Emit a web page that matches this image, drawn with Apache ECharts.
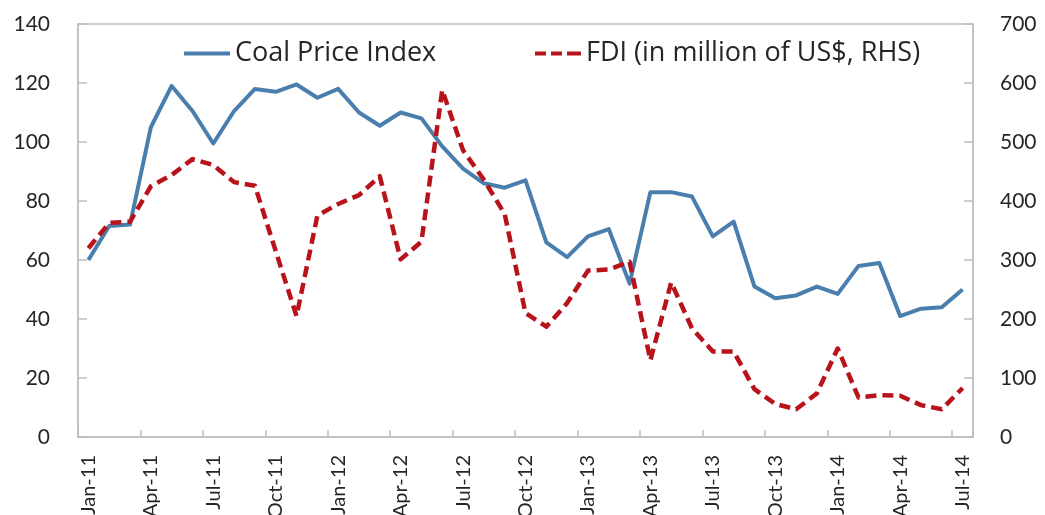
<!DOCTYPE html>
<html>
<head>
<meta charset="utf-8">
<script src="https://cdn.jsdelivr.net/npm/echarts@6/dist/echarts.min.js"></script>
<style>
  html, body { margin: 0; padding: 0; background: #ffffff; }
  #chart { width: 1045px; height: 515px; }
</style>
</head>
<body>
<div id="chart"></div>
<script>
// Monthly observations, Jan-11 .. Jul-14
const months = [
  'Jan-11','Feb-11','Mar-11','Apr-11','May-11','Jun-11','Jul-11','Aug-11','Sep-11','Oct-11','Nov-11','Dec-11',
  'Jan-12','Feb-12','Mar-12','Apr-12','May-12','Jun-12','Jul-12','Aug-12','Sep-12','Oct-12','Nov-12','Dec-12',
  'Jan-13','Feb-13','Mar-13','Apr-13','May-13','Jun-13','Jul-13','Aug-13','Sep-13','Oct-13','Nov-13','Dec-13',
  'Jan-14','Feb-14','Mar-14','Apr-14','May-14','Jun-14','Jul-14'
];

// Coal price index (left axis)
const coalPriceIndex = [
  60, 71.5, 72, 105, 119, 110.5, 99.5, 110.5, 118, 117, 119.5, 115,
  118, 110, 105.5, 110, 108, 98.5, 91, 86, 84.5, 87, 66, 61,
  68, 70.5, 52, 83, 83, 81.5, 68, 73, 51, 47, 48, 51,
  48.5, 58, 59, 41, 43.5, 44, 50
];

// FDI in million US$ (right axis)
const fdi = [
  320, 363, 365, 425, 444, 471, 461, 432, 426, 315, 205, 375,
  395, 410, 442, 301, 331, 588, 486, 436, 378, 210, 187, 227,
  282, 284, 297, 130, 262, 184, 145, 145, 81, 56, 47, 74,
  150, 67, 71, 70, 54, 47, 83
];

const leftTicks = { min: 0, max: 140, interval: 20 };
const rightTicks = { min: 0, max: 700, interval: 100 };

const coalName = 'Coal Price Index';
const fdiName = 'FDI (in million of US$, RHS)';

const AXIS_FONT = 'Lato, "Open Sans", sans-serif';
const LEGEND_FONT = '"Open Sans", Lato, sans-serif';
const AXIS_GREY = '#bfbfbf';
const TEXT = '#262626';
const BLUE = '#4a7fad';
const RED = '#b8121b';

// legend keys: a solid bar and a dash-dash-dot bar
const solidKey = 'path://M0,0h46v4h-46z';
const dashedKey = 'path://M0,0h11v4h-11z M16,0h11v4h-11z M32,0h11v4h-11z M42,0h4v4h-4z';

const chart = echarts.init(document.getElementById('chart'), null, { renderer: 'canvas' });

const axisCommon = {
  axisLine: { show: true, lineStyle: { color: AXIS_GREY, width: 1.5 } },
  axisTick: { show: true, inside: true, length: 9, lineStyle: { color: AXIS_GREY, width: 1.5 } },
  splitLine: { show: false },
  axisLabel: { color: TEXT, fontFamily: AXIS_FONT, fontSize: 21 }
};

const legendText = { color: TEXT, fontFamily: LEGEND_FONT, fontSize: 27 };

chart.setOption({
  animation: false,
  backgroundColor: '#ffffff',
  grid: {
    left: 78, right: 72, top: 24, bottom: 78,
    outerBoundsMode: 'none',
    containLabel: false,
    show: true, borderColor: AXIS_GREY, borderWidth: 1.5
  },
  legend: [
    {
      data: [{ name: coalName, icon: solidKey }], left: 179, top: 35,
      itemWidth: 46, itemHeight: 4, itemGap: 0,
      textStyle: legendText
    },
    {
      data: [{ name: fdiName, icon: dashedKey }], left: 530, top: 35,
      itemWidth: 46, itemHeight: 4, itemGap: 0,
      textStyle: legendText
    }
  ],
  xAxis: {
    type: 'category',
    data: months,
    boundaryGap: true,
    axisLine: axisCommon.axisLine,
    axisTick: Object.assign({}, axisCommon.axisTick, { interval: 2, length: 7 }),
    splitLine: { show: false },
    axisLabel: { color: TEXT, fontFamily: AXIS_FONT, fontSize: 20, rotate: 90, interval: 2, margin: 18 }
  },
  yAxis: [
    Object.assign({ type: 'value', position: 'left' }, leftTicks, axisCommon,
      { axisLabel: Object.assign({}, axisCommon.axisLabel, { margin: 28 }) }),
    Object.assign({ type: 'value', position: 'right' }, rightTicks, axisCommon,
      { axisLabel: Object.assign({}, axisCommon.axisLabel, { margin: 27 }) })
  ],
  series: [
    {
      name: coalName,
      type: 'line',
      yAxisIndex: 0,
      data: coalPriceIndex,
      showSymbol: false,
      symbol: 'none',
      lineStyle: { color: BLUE, width: 4, join: 'round' },
      itemStyle: { color: BLUE }
    },
    {
      name: fdiName,
      type: 'line',
      yAxisIndex: 1,
      data: fdi,
      showSymbol: false,
      symbol: 'none',
      lineStyle: { color: RED, width: 4.5, type: [11, 6], join: 'round' },
      itemStyle: { color: RED }
    }
  ]
});
</script>
</body>
</html>
